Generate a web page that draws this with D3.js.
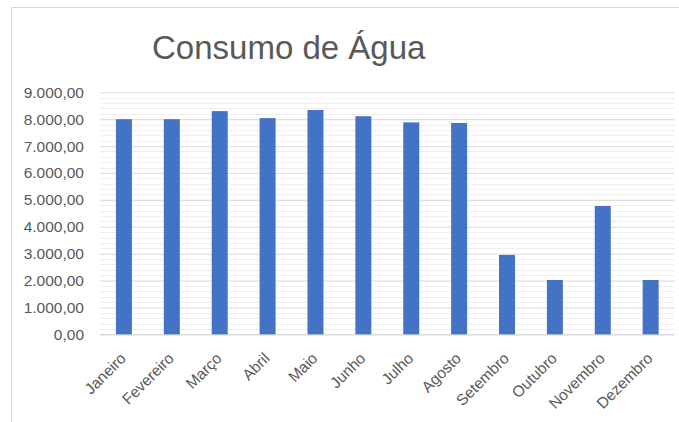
<!DOCTYPE html>
<html><head><meta charset="utf-8">
<script src="https://cdn.jsdelivr.net/npm/d3@7"></script>
<style>
html,body{margin:0;padding:0;background:#fff;}
svg{display:block;}
</style></head>
<body>
<svg id="chart" width="679" height="422"></svg>
<script>
const title = "Consumo de Água";
const months = ["Janeiro","Fevereiro","Março","Abril","Maio","Junho","Julho","Agosto","Setembro","Outubro","Novembro","Dezembro"];
const consumo = [8000, 8000, 8300, 8040, 8340, 8110, 7880, 7860, 2950, 2020, 4770, 2020];
const yTicks = [0,1000,2000,3000,4000,5000,6000,7000,8000,9000];
const yMinorTicks = d3.range(0, 9001, 200);

const W = 679, H = 422;
const m = {left:100, right:4.4, top:92.3, bottom:87.7};
const svg = d3.select("#chart");
const font = "'Liberation Sans', Arial, sans-serif";
const txt = "#595959";

// outer border (chart area clipped by viewport)
svg.append("path").attr("d", `M11.5,${H+2}V7.5H${W+2}`).attr("fill","none").attr("stroke","#d9d9d9").attr("stroke-width",1);

const x = d3.scaleBand().domain(months).range([m.left, W - m.right]).paddingInner(0.666).paddingOuter(0.333);
const y = d3.scaleLinear().domain([0, 9000]).range([H - m.bottom, m.top]);

// minor gridlines
svg.append("g").selectAll("line").data(yMinorTicks.filter(v => v % 1000 !== 0)).join("line")
  .attr("x1", m.left).attr("x2", W - m.right)
  .attr("y1", d => Math.round(y(d)) + 0.5).attr("y2", d => Math.round(y(d)) + 0.5)
  .attr("stroke", "#efefef").attr("stroke-width", 1);

// major gridlines via axis
const yAxis = d3.axisLeft(y).tickValues(yTicks)
  .tickFormat(d => d3.format(",.2f")(d).replace(/,/g,"#").replace(".",",").replace(/#/g,"."))
  .tickSize(-(W - m.left - m.right)).tickPadding(16);
const gy = svg.append("g").attr("transform", `translate(${m.left},0)`).call(yAxis);
gy.select(".domain").remove();
gy.selectAll(".tick line").attr("stroke", "#d9d9d9").attr("stroke-width", d => d === 0 ? 1.5 : 1);
gy.selectAll(".tick text").attr("fill", txt).attr("font-family", font).attr("font-size", 15.5);

// bars
svg.append("g").selectAll("rect").data(months).join("rect")
  .attr("x", d => x(d)).attr("width", x.bandwidth())
  .attr("y", (d,i) => y(consumo[i])).attr("height", (d,i) => y(0) - y(consumo[i]))
  .attr("fill", "#4472c4");

// x axis
const xAxis = d3.axisBottom(x).tickSize(0).tickPadding(0);
const gx = svg.append("g").attr("transform", `translate(0,${H - m.bottom})`).call(xAxis);
gx.select(".domain").remove();
gx.selectAll(".tick text")
  .attr("fill", txt).attr("font-family", font).attr("font-size", 15.5)
  .attr("text-anchor", "end").attr("dy", null).attr("y", null)
  .attr("transform", "translate(3,25) rotate(-45)");

// title
svg.append("text").attr("x", 152).attr("y", 59).text(title)
  .attr("fill", txt).attr("font-family", font).attr("font-size", 33);
</script>
</body></html>
